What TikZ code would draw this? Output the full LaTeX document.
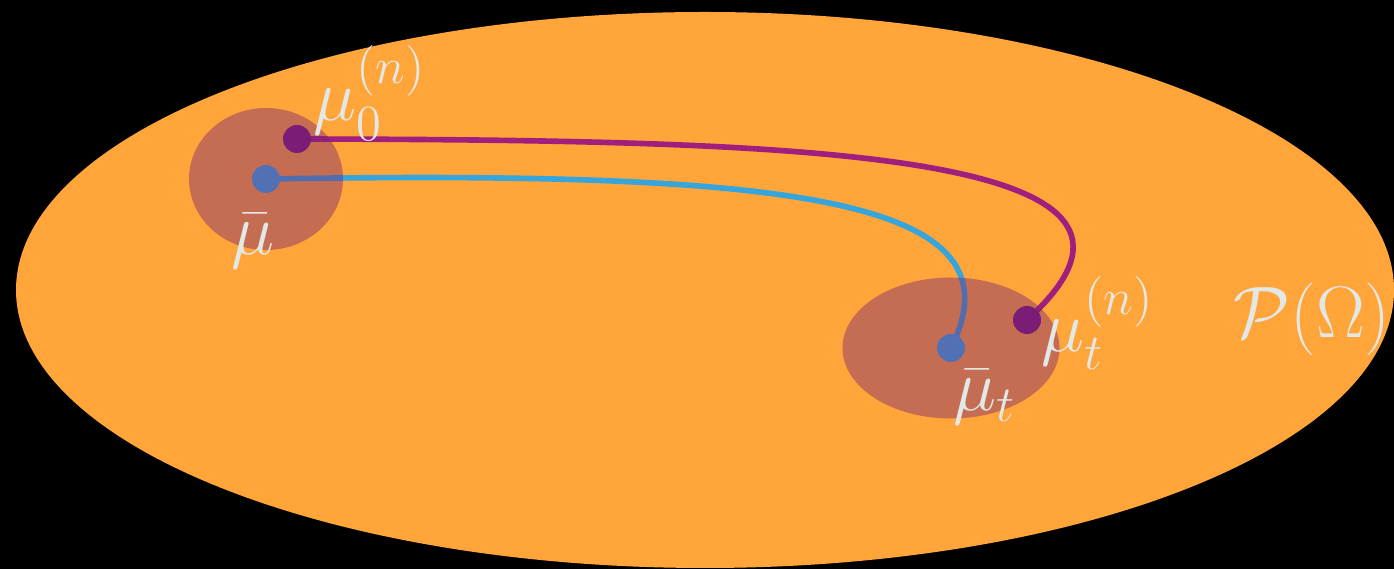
\documentclass[tikz,border=0pt]{standalone}
\usepackage{amsmath}
\usetikzlibrary{positioning}
\definecolor{myorange}{RGB}{255,165,58}
\definecolor{myplum}{RGB}{121,36,114}
\definecolor{mypurple}{RGB}{160,30,125}
\definecolor{mydkpurple}{RGB}{123,28,118}
\definecolor{myblue}{RGB}{53,165,219}
\definecolor{mydkblue}{RGB}{82,112,180}
\definecolor{mylabel}{RGB}{226,232,230}
\pgfdeclarelayer{back}
\pgfdeclarelayer{curves}
\pgfdeclarelayer{blobs}
\pgfsetlayers{back,curves,blobs,main}
\tikzset{
  dot/.style={circle, inner sep=0pt, minimum size=0.28cm},
  blob/.style={fill=myplum, fill opacity=0.43},
  curve/.style={line width=1.6pt},
  lbl/.style={text=mylabel, inner sep=0pt, anchor=base west,
    font=\fontsize{20.74}{25}\selectfont}
}

\begin{document}
\begin{tikzpicture}
  \useasboundingbox (0,0) rectangle (13.94,5.69);

  % Background and space
  \begin{pgfonlayer}{back}
    \fill[black] (0,0) rectangle (13.94,5.69);
    \fill[myorange] (7.05,2.79) ellipse (6.89cm and 2.78cm);
  \end{pgfonlayer}

  % Neighbourhoods
  \begin{pgfonlayer}{blobs}
    \fill[blob] (2.66,3.90) ellipse (0.77cm and 0.71cm);
    \fill[blob] (9.51,2.21) ellipse (1.085cm and 0.705cm);
  \end{pgfonlayer}

  % Measures
  \node[dot, fill=mydkpurple] (mu0) at (2.97,4.30) {};
  \node[dot, fill=mydkblue] (mubar) at (2.66,3.90) {};
  \node[dot, fill=mydkpurple] (mut) at (10.27,2.49) {};
  \node[dot, fill=mydkblue] (mubart) at (9.51,2.21) {};

  % Trajectories
  \begin{pgfonlayer}{curves}
    \draw[curve, mypurple] (mu0.center) .. controls (8.00,4.29) and (12.15,4.19) .. (mut.center);
    \draw[curve, myblue] (mubar.center) .. controls (8.00,3.99) and (10.25,3.69) .. (mubart.center);
  \end{pgfonlayer}

  % Labels
  \node[lbl] (lmu0) at (3.13,4.48) {$\mu_0^{(n)}$};
  \node[lbl] (lmubar) at (2.31,3.14) {$\bar{\mu}$};
  \node[lbl] (lmut) at (10.41,2.17) {$\mu_t^{(n)}$};
  \node[lbl] (lmubart) at (9.53,1.58) {$\bar{\mu}_t$};
  \node[lbl] (lspace) at (12.33,2.31) {$\mathcal{P}(\Omega)$};
\end{tikzpicture}
\end{document}
